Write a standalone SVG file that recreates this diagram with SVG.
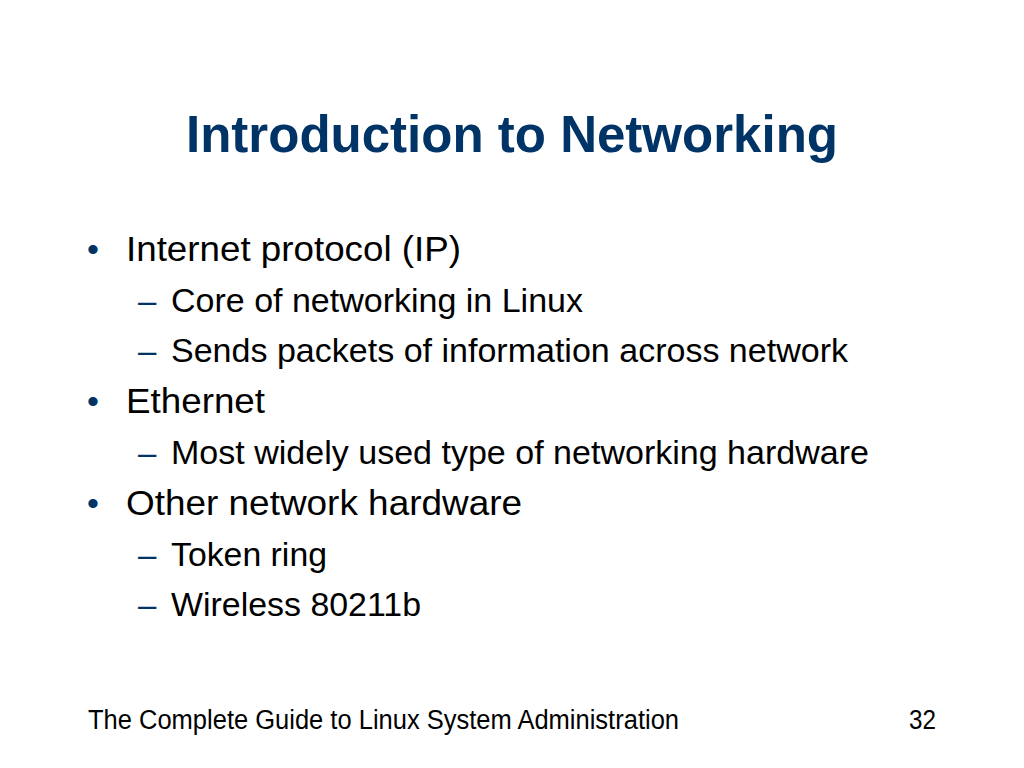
<svg xmlns="http://www.w3.org/2000/svg" width="1024" height="768" viewBox="0 0 1024 768">
<style>
.t{font-family:"Liberation Sans",Arial,sans-serif;font-weight:bold;font-size:52px;fill:#003366}
.m{font-family:"Liberation Sans",Arial,sans-serif;font-size:35px;fill:#000}
.s{font-family:"Liberation Sans",Arial,sans-serif;font-size:32.5px;fill:#000}
.b{font-family:"Liberation Sans",Arial,sans-serif;font-size:34px;fill:#003366}
.d{font-family:"Liberation Sans",Arial,sans-serif;font-size:33px;fill:#003366}
.f{font-family:"Liberation Sans",Arial,sans-serif;font-size:27px;fill:#000}
</style>
<rect width="1024" height="768" fill="#fff"/>
<g id="title">
<text class="t" x="186" y="152" textLength="652" lengthAdjust="spacingAndGlyphs">Introduction to Networking</text>
</g>
<g id="body">
<text class="b" x="87" y="261">•</text>
<text class="m" x="126" y="261" textLength="335" lengthAdjust="spacingAndGlyphs">Internet protocol (IP)</text>
<text class="d" x="138" y="312">–</text>
<text class="s" x="171" y="312" textLength="412" lengthAdjust="spacingAndGlyphs">Core of networking in Linux</text>
<text class="d" x="138" y="362">–</text>
<text class="s" x="171" y="362" textLength="677" lengthAdjust="spacingAndGlyphs">Sends packets of information across network</text>
<text class="b" x="87" y="413">•</text>
<text class="m" x="126" y="413" textLength="139" lengthAdjust="spacingAndGlyphs">Ethernet</text>
<text class="d" x="138" y="464">–</text>
<text class="s" x="171" y="464" textLength="698" lengthAdjust="spacingAndGlyphs">Most widely used type of networking hardware</text>
<text class="b" x="87" y="515">•</text>
<text class="m" x="126" y="515" textLength="396" lengthAdjust="spacingAndGlyphs">Other network hardware</text>
<text class="d" x="138" y="566">–</text>
<text class="s" x="171" y="566" textLength="156" lengthAdjust="spacingAndGlyphs">Token ring</text>
<text class="d" x="138" y="616">–</text>
<text class="s" x="171" y="616" textLength="250" lengthAdjust="spacingAndGlyphs">Wireless 80211b</text>
</g>
<g id="footer">
<text class="f" x="88" y="729" textLength="591" lengthAdjust="spacingAndGlyphs">The Complete Guide to Linux System Administration</text>
<text class="f" x="909" y="729" textLength="27" lengthAdjust="spacingAndGlyphs">32</text>
</g>
</svg>
